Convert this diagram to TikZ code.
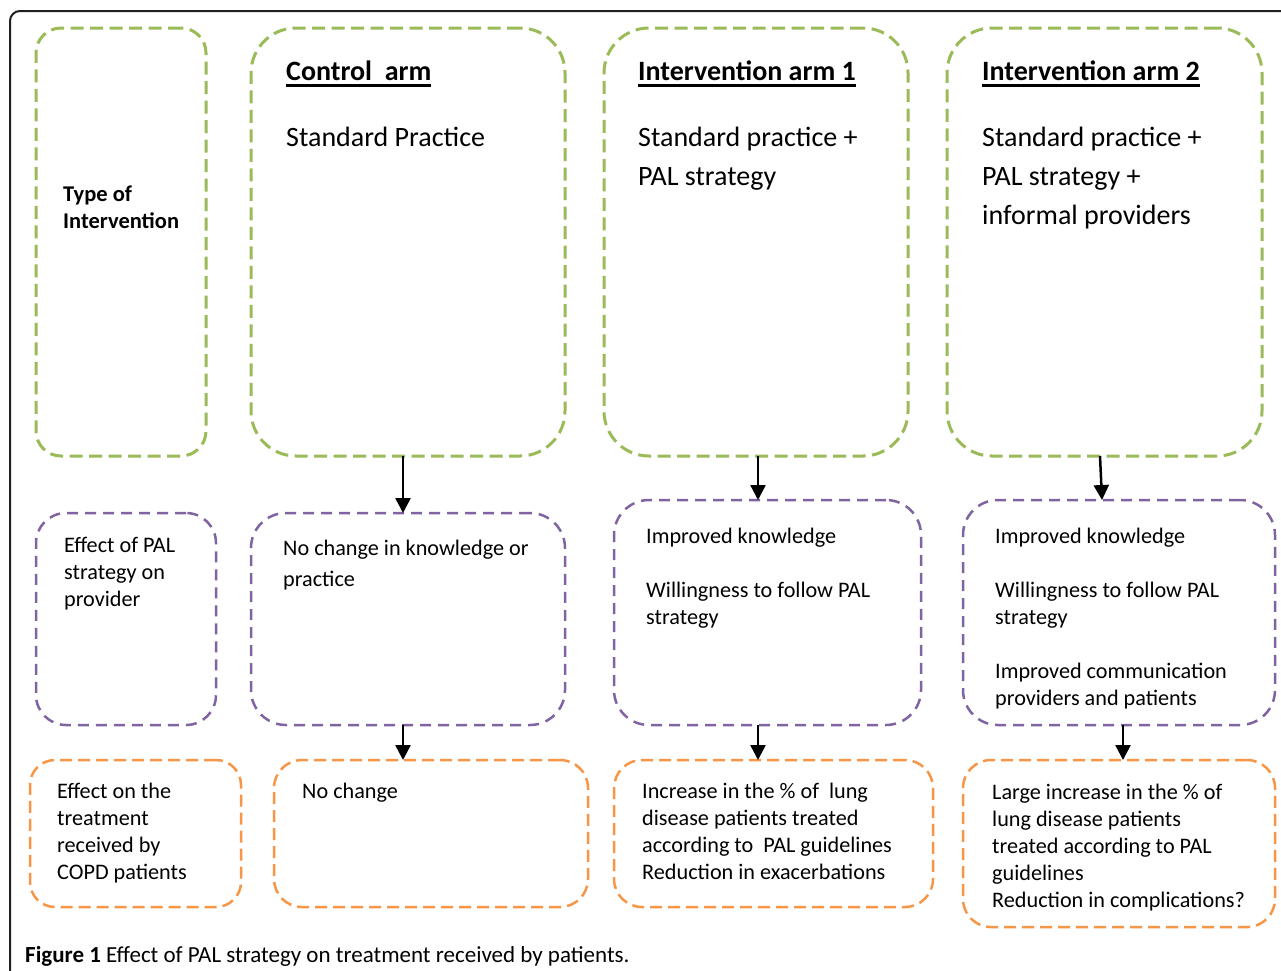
\documentclass[tikz,border=0pt]{standalone}
\usepackage{fontspec}
\setmainfont{Carlito}
\usetikzlibrary{arrows.meta}
\definecolor{offgreen}{HTML}{9BBB59}
\definecolor{offpurple}{HTML}{8064A2}
\definecolor{offorange}{HTML}{F79646}
\definecolor{framegray}{HTML}{231F20}
\newcommand\hdul[1]{\setbox0\hbox{#1}\rlap{\rule[-6.5pt]{\wd0}{2.6pt}}\box0}
\tikzset{
  boxbase/.style={rectangle, inner sep=0pt, outer sep=0pt, anchor=north west},
  greenbox/.style={boxbase, draw=offgreen, line width=3pt, dash pattern=on 13pt off 6.5pt, rounded corners=#1},
  purplebox/.style={boxbase, draw=offpurple, line width=2.5pt, dash pattern=on 11pt off 7pt, rounded corners=#1},
  orangebox/.style={boxbase, draw=offorange, line width=2.5pt, dash pattern=on 12pt off 6pt, rounded corners=#1},
  smalltxt/.style={anchor=north west, inner sep=0pt, align=left, font=\fontsize{22.2}{27}\selectfont},
  bigtxt/.style={anchor=north west, inner sep=0pt, align=left, font=\fontsize{28}{39}\selectfont},
  bighead/.style={bigtxt, font=\fontsize{28}{39}\selectfont\bfseries},
  arr/.style={line width=2.5pt, -{Triangle[length=15pt,width=15pt]}},
}
\begin{document}
\begin{tikzpicture}[x=1pt,y=-1pt]
\clip (0,0) rectangle (1281,970);
\fill[white] (0,0) rectangle (1281,970);
\draw[framegray, line width=2pt, rounded corners=10pt] (10,11) rectangle (1300,1000);

% row 1
\node[greenbox=25pt, minimum width=170pt, minimum height=428pt] (A1) at (36,28) {};
\node[greenbox=45pt, minimum width=314pt, minimum height=428pt] (B1) at (251,28) {};
\node[greenbox=45pt, minimum width=304pt, minimum height=428pt] (C1) at (604,28) {};
\node[greenbox=45pt, minimum width=315pt, minimum height=428pt] (D1) at (947,28) {};
% row 2
\node[purplebox=30pt, minimum width=180pt, minimum height=212pt] (A2) at (36,513) {};
\node[purplebox=35pt, minimum width=314pt, minimum height=212pt] (B2) at (251,513) {};
\node[purplebox=35pt, minimum width=307pt, minimum height=225pt] (C2) at (614,500) {};
\node[purplebox=35pt, minimum width=312pt, minimum height=225pt] (D2) at (963,500) {};
% row 3
\node[orangebox=25pt, minimum width=211pt, minimum height=147pt] (A3) at (30,760) {};
\node[orangebox=28pt, minimum width=314pt, minimum height=147pt] (B3) at (274,760) {};
\node[orangebox=28pt, minimum width=319pt, minimum height=147pt] (C3) at (614,760) {};
\node[orangebox=28pt, minimum width=312pt, minimum height=167pt] (D3) at (963,760) {};

% texts row 1
\node[smalltxt, font=\fontsize{22.5}{27}\selectfont\bfseries] (tA1) at (63,182.6) {\strut Type of\\Intervention};
\node[bighead] (hB1) at (286,53) {\strut\hdul{Control~ arm}};
\node[bigtxt] (tB1) at (286,119) {\strut Standard Practice};
\node[bighead] (hC1) at (638,53) {\strut\hdul{Intervention arm 1}};
\node[bigtxt] (tC1) at (638,119) {\strut Standard practice +\\PAL strategy};
\node[bighead] (hD1) at (982,53) {\strut\hdul{Intervention arm 2}};
\node[bigtxt] (tD1) at (982,119) {\strut Standard practice +\\PAL strategy +\\informal providers};

% texts row 2
\node[smalltxt] (tA2) at (64,533) {\strut Effect of PAL\\strategy on\\provider};
\node[smalltxt, font=\fontsize{22.2}{31}\selectfont] (tB2) at (283,533.3) {\strut No change in knowledge or\\practice};
\node[smalltxt] (tC2) at (646,524) {\strut Improved knowledge\\[27pt]Willingness to follow PAL\\strategy};
\node[smalltxt] (tD2) at (995,524) {\strut Improved knowledge\\[27pt]Willingness to follow PAL\\strategy\\[27pt]Improved communication\\providers and patients};

% texts row 3
\node[smalltxt] (tA3) at (57,779) {\strut Effect on the\\treatment\\received by\\COPD patients};
\node[smalltxt] (tB3) at (302,779) {\strut No change};
\node[smalltxt] (tC3) at (642,779) {\strut Increase in the \% of~ lung\\disease patients treated\\according to~ PAL guidelines\\Reduction in exacerbations};
\node[smalltxt] (tD3) at (992,780) {\strut Large increase in the \% of\\lung disease patients\\treated according to PAL\\guidelines\\Reduction in complications?};

% arrows
\draw[arr] ([xshift=-5pt]B1.south) -- ([xshift=-5pt]B2.north);
\draw[arr] ([xshift=2pt]C1.south) -- ([xshift=-9.5pt]C2.north);
\draw[arr] ([xshift=-4.5pt]D1.south) -- ([xshift=-17pt]D2.north);
\draw[arr] ([xshift=-5pt]B2.south) -- ([xshift=-28pt]B3.north);
\draw[arr] ([xshift=-9.5pt]C2.south) -- ([xshift=-15.5pt]C3.north);
\draw[arr] ([xshift=4pt]D2.south) -- ([xshift=4pt]D3.north);

% caption
\node[anchor=base west, inner sep=0pt, font=\fontsize{23}{27}\selectfont] (cap) at (25,962) {{\bfseries Figure 1} Effect of PAL strategy on treatment received by patients.};
\end{tikzpicture}
\end{document}
